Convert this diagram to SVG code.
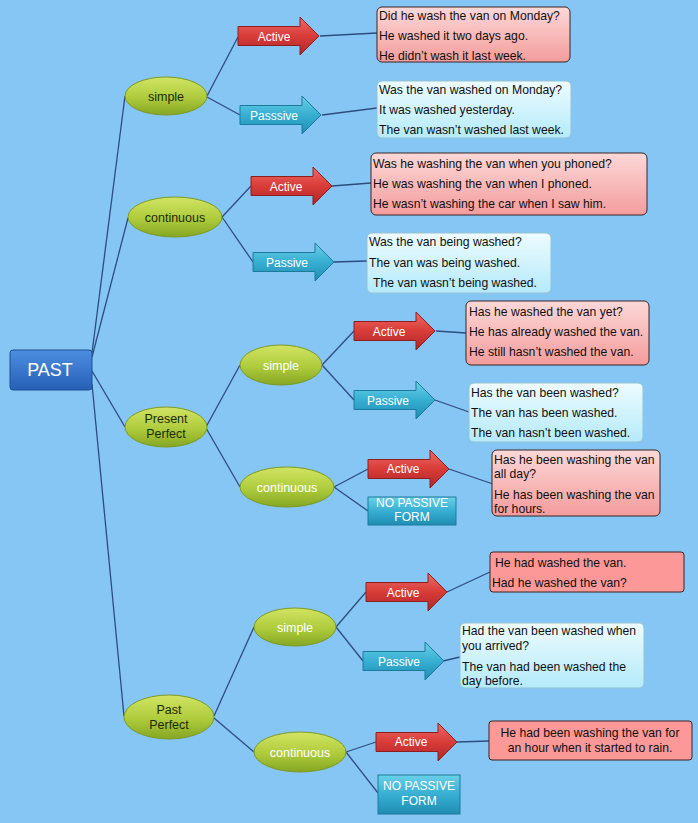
<svg xmlns="http://www.w3.org/2000/svg" width="698" height="823" viewBox="0 0 698 823">
<defs>
<linearGradient id="gEl" x1="0" y1="0" x2="0" y2="1"><stop offset="0" stop-color="#D2E463"/><stop offset="0.55" stop-color="#AECB3C"/><stop offset="1" stop-color="#86A623"/></linearGradient>
<linearGradient id="gRed" x1="0" y1="0" x2="0" y2="1"><stop offset="0" stop-color="#EE6A66"/><stop offset="0.5" stop-color="#D83C38"/><stop offset="1" stop-color="#B0262A"/></linearGradient>
<linearGradient id="gCy" x1="0" y1="0" x2="0" y2="1"><stop offset="0" stop-color="#6CD0E8"/><stop offset="0.5" stop-color="#36AFD2"/><stop offset="1" stop-color="#1F8DB2"/></linearGradient>
<linearGradient id="gPast" x1="0" y1="0" x2="0" y2="1"><stop offset="0" stop-color="#4C8EE0"/><stop offset="1" stop-color="#2760B6"/></linearGradient>
<linearGradient id="gPink" x1="0" y1="0" x2="0" y2="1"><stop offset="0" stop-color="#FCD8D8"/><stop offset="1" stop-color="#F49C9C"/></linearGradient>
<linearGradient id="gLc" x1="0" y1="0" x2="0" y2="1"><stop offset="0" stop-color="#EEFCFF"/><stop offset="1" stop-color="#B4EAFA"/></linearGradient>
<path id="arrow" d="M0,-9.5 H62 V-19 L81,0 L62,19 V9.5 H0 Z"/>
</defs>
<style>
.el{fill:url(#gEl);stroke:#7C9A24;stroke-width:1}
.elt{font-family:"Liberation Sans",Arial,sans-serif;font-size:12.5px;fill:#1C2A05;text-anchor:middle}
.elw{font-family:"Liberation Sans",Arial,sans-serif;font-size:12.5px;fill:#FFFFFF;text-anchor:middle}
.ar{fill:url(#gRed);stroke:#8E1E1E;stroke-width:1}
.ac{fill:url(#gCy);stroke:#1C7A9A;stroke-width:1}
.at{font-family:"Liberation Sans",Arial,sans-serif;font-size:12px;fill:#FFFFFF;text-anchor:middle}
.bp{fill:url(#gPink);stroke:#3A2424;stroke-width:1}
.bs{fill:#FC9898;stroke:#3A2424;stroke-width:1}
.bc{fill:url(#gLc);stroke:#94C3D3;stroke-width:1}
.tx{font-family:"Liberation Sans",Arial,sans-serif;font-size:12.2px;fill:#111111}
.np{fill:url(#gCy);stroke:#1C7A9A;stroke-width:1}
.con{fill:none;stroke:#2E4C80;stroke-width:1.3}
</style>
<rect x="0" y="0" width="698" height="823" fill="#86C6F4"/>

<g id="connectors">
<path class="con" d="M92,353 L125,96"/>
<path class="con" d="M92,357 L128,218"/>
<path class="con" d="M92,371 L125,427"/>
<path class="con" d="M92,384 L124,716"/>
<path class="con" d="M207,96 L238,37"/>
<path class="con" d="M207,97 L240,115"/>
<path class="con" d="M320,36 L377,33"/>
<path class="con" d="M322,115 L377,108"/>
<path class="con" d="M222,217 L251,186"/>
<path class="con" d="M222,217 L253,262"/>
<path class="con" d="M332,186 L371,183"/>
<path class="con" d="M333,262 L367,261"/>
<path class="con" d="M206,427 L240,365"/>
<path class="con" d="M206,428 L240,487"/>
<path class="con" d="M322,365 L354,331"/>
<path class="con" d="M322,365 L354,400"/>
<path class="con" d="M436,331 L466,333"/>
<path class="con" d="M435,400 L469,412"/>
<path class="con" d="M334,487 L368,469"/>
<path class="con" d="M334,487 L368,511"/>
<path class="con" d="M449,469 L493,484"/>
<path class="con" d="M214,716 L254,627"/>
<path class="con" d="M214,718 L254,752"/>
<path class="con" d="M336,627 L366,592"/>
<path class="con" d="M336,627 L363,661"/>
<path class="con" d="M447,592 L490,572"/>
<path class="con" d="M443,661 L460,657"/>
<path class="con" d="M346,752 L376,742"/>
<path class="con" d="M346,752 L378,793"/>
<path class="con" d="M457,742 L489,741"/>
</g>

<g id="past">
<rect x="10" y="350" width="82" height="40" rx="3" fill="url(#gPast)" stroke="#1E4E92" stroke-width="1"/>
<text x="50" y="376" font-family="'Liberation Sans',Arial,sans-serif" font-size="18" fill="#FFFFFF" text-anchor="middle">PAST</text>
</g>

<g id="past-simple">
<ellipse class="el" cx="166" cy="96" rx="41" ry="19"/>
<text class="elt" x="166" y="100.5">simple</text>
</g>
<g id="past-continuous">
<ellipse class="el" cx="175" cy="217" rx="47" ry="20"/>
<text class="elt" x="175" y="221.5">continuous</text>
</g>
<g id="present-perfect">
<ellipse class="el" cx="166" cy="427" rx="41" ry="20"/>
<text class="elt" x="166" y="423">Present</text>
<text class="elt" x="166" y="437.5">Perfect</text>
</g>
<g id="pp-simple">
<ellipse class="el" cx="281" cy="365" rx="41" ry="20"/>
<text class="elw" x="281" y="369.5">simple</text>
</g>
<g id="pp-continuous">
<ellipse class="el" cx="287" cy="487" rx="47" ry="20"/>
<text class="elw" x="287" y="491.5">continuous</text>
</g>
<g id="past-perfect">
<ellipse class="el" cx="169" cy="717" rx="45" ry="22"/>
<text class="elt" x="169" y="714">Past</text>
<text class="elt" x="169" y="729">Perfect</text>
</g>
<g id="ppf-simple">
<ellipse class="el" cx="295" cy="627" rx="41" ry="19"/>
<text class="elw" x="295" y="631.5">simple</text>
</g>
<g id="ppf-continuous">
<ellipse class="el" cx="300" cy="752" rx="46" ry="20"/>
<text class="elw" x="300" y="756.5">continuous</text>
</g>

<g id="a1"><use href="#arrow" class="ar" transform="translate(238,36)"/><text class="at" x="274" y="40.5">Active</text></g>
<g id="p1"><use href="#arrow" class="ac" transform="translate(240,115)"/><text class="at" x="274" y="119.5">Passsive</text></g>
<g id="a2"><use href="#arrow" class="ar" transform="translate(251,186)"/><text class="at" x="286" y="190.5">Active</text></g>
<g id="p2"><use href="#arrow" class="ac" transform="translate(253,262)"/><text class="at" x="287" y="266.5">Passive</text></g>
<g id="a3"><use href="#arrow" class="ar" transform="translate(354,331)"/><text class="at" x="389" y="335.5">Active</text></g>
<g id="p3"><use href="#arrow" class="ac" transform="translate(354,400)"/><text class="at" x="388" y="404.5">Passive</text></g>
<g id="a4"><use href="#arrow" class="ar" transform="translate(368,469)"/><text class="at" x="403" y="473">Active</text></g>
<g id="np1"><rect class="np" x="368" y="497" width="88" height="28"/><text class="at" x="412" y="507" font-size="11">NO PASSIVE</text><text class="at" x="412" y="521" font-size="11">FORM</text></g>
<g id="a5"><use href="#arrow" class="ar" transform="translate(366,592)"/><text class="at" x="403" y="596.5">Active</text></g>
<g id="p5"><use href="#arrow" class="ac" transform="translate(363,661)"/><text class="at" x="399" y="665.5">Passive</text></g>
<g id="a6"><use href="#arrow" class="ar" transform="translate(376,742)"/><text class="at" x="411" y="746">Active</text></g>
<g id="np2"><rect class="np" x="378" y="775" width="82" height="39"/><text class="at" x="419" y="790">NO PASSIVE</text><text class="at" x="419" y="804.5">FORM</text></g>

<g id="b1">
<rect class="bp" x="377" y="7" width="193" height="55" rx="5"/>
<text class="tx" x="379" y="20">Did he wash the van on Monday?</text>
<text class="tx" x="379" y="40">He washed it two days ago.</text>
<text class="tx" x="379" y="60">He didn’t wash it last week.</text>
</g>
<g id="b2">
<rect class="bc" x="377" y="81" width="194" height="57" rx="5"/>
<text class="tx" x="379" y="93.5">Was the van washed on Monday?</text>
<text class="tx" x="379" y="113.5">It was washed yesterday.</text>
<text class="tx" x="379" y="133.5">The van wasn’t washed last week.</text>
</g>
<g id="b3">
<rect class="bp" x="371" y="153" width="276" height="62" rx="5"/>
<text class="tx" x="373" y="167.5">Was he washing the van when you phoned?</text>
<text class="tx" x="373" y="187.5">He was washing the van when I phoned.</text>
<text class="tx" x="373" y="207.5">He wasn’t washing the car when I saw him.</text>
</g>
<g id="b4">
<rect class="bc" x="367" y="233" width="184" height="60" rx="5"/>
<text class="tx" x="369" y="245.5">Was the van being washed?</text>
<text class="tx" x="369" y="266.5">The van was being washed.</text>
<text class="tx" x="373" y="286.5">The van wasn’t being washed.</text>
</g>
<g id="b5">
<rect class="bp" x="466" y="301" width="183" height="64" rx="5"/>
<text class="tx" x="469" y="315.5">Has he washed the van yet?</text>
<text class="tx" x="469" y="335.5">He has already washed the van.</text>
<text class="tx" x="469" y="355.5">He still hasn’t washed the van.</text>
</g>
<g id="b6">
<rect class="bc" x="469" y="383" width="174" height="59" rx="5"/>
<text class="tx" x="471" y="396.5">Has the van been washed?</text>
<text class="tx" x="471" y="416.5">The van has been washed.</text>
<text class="tx" x="471" y="436.5">The van hasn’t been washed.</text>
</g>
<g id="b7">
<rect class="bp" x="492" y="450" width="168" height="66" rx="5"/>
<text class="tx" x="494" y="463.5">Has he been washing the van</text>
<text class="tx" x="494" y="477.5">all day?</text>
<text class="tx" x="494" y="498.5">He has been washing the van</text>
<text class="tx" x="494" y="512.5">for hours.</text>
</g>
<g id="b8">
<rect class="bs" x="490" y="552" width="194" height="40" rx="3"/>
<text class="tx" x="495" y="566.5">He had washed the van.</text>
<text class="tx" x="492" y="586.5">Had he washed the van?</text>
</g>
<g id="b9">
<rect class="bc" x="460" y="623" width="184" height="65" rx="5"/>
<text class="tx" x="462" y="634.5">Had the van been washed when</text>
<text class="tx" x="462" y="649.5">you arrived?</text>
<text class="tx" x="462" y="670.5">The van had been washed the</text>
<text class="tx" x="462" y="684.5">day before.</text>
</g>
<g id="b10">
<rect class="bs" x="489" y="721" width="203" height="39" rx="3"/>
<text class="tx" x="590" y="736.5" text-anchor="middle">He had been washing the van for</text>
<text class="tx" x="590" y="751.5" text-anchor="middle">an hour when it started to rain.</text>
</g>
</svg>
